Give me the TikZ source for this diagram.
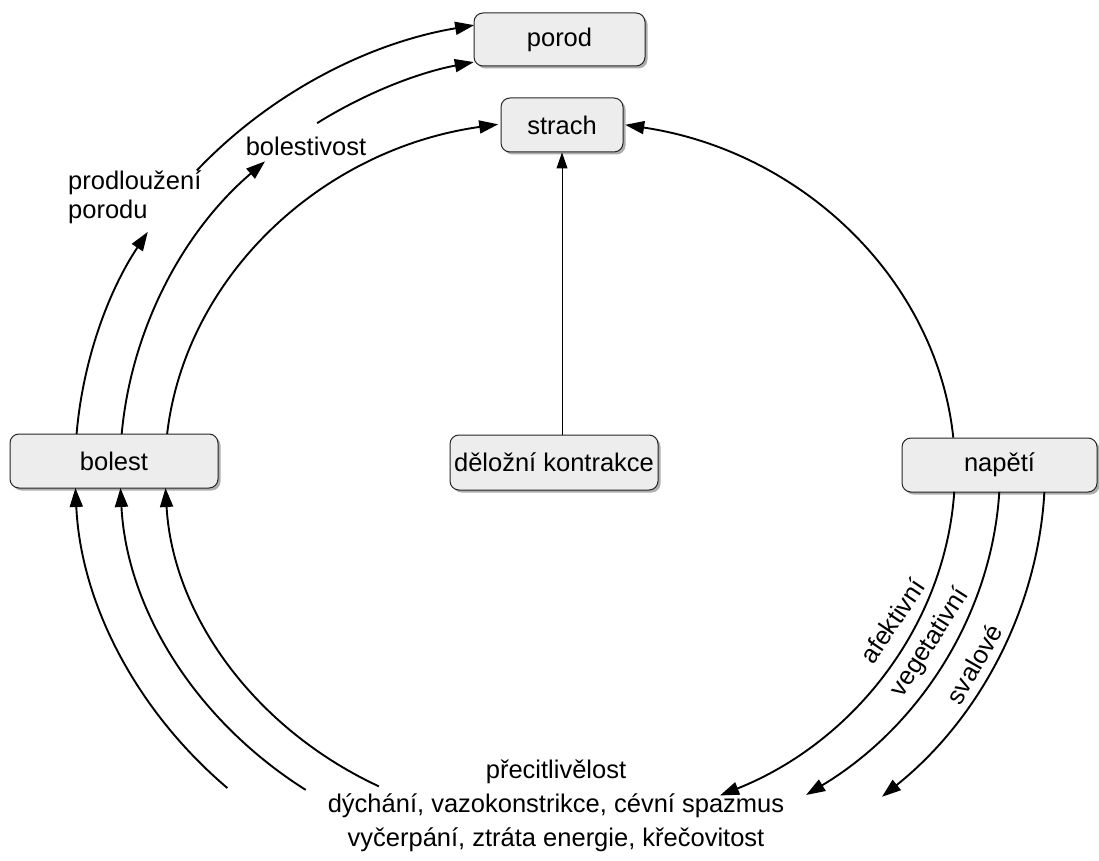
\documentclass[tikz,border=0pt]{standalone}
\usepackage{fontspec}
\setmainfont{Liberation Sans}
\usetikzlibrary{arrows.meta,shadows,calc}
\begin{document}
\begin{tikzpicture}[x=1pt,y=1pt,
  box/.style={draw=black!85, line width=1pt, rounded corners=9pt, fill=gray!14, inner sep=0pt,
    font=\fontsize{25.5}{30}\selectfont,
    drop shadow={shadow xshift=2.5pt, shadow yshift=-2.5pt, fill=black!40, opacity=0.8}},
  lbl/.style={font=\fontsize{25.5}{29}\selectfont, inner sep=0pt},
  arr/.style={line width=1.9pt, -{Triangle[length=19pt,width=13pt]}},
  thinarr/.style={line width=1pt, -{Triangle[length=16pt,width=11pt]}},
]
\useasboundingbox (0,0) rectangle (1099,-861);
\coordinate (C) at (560,-470);

% nodes
\node[box, minimum width=171pt, minimum height=53pt] (porod) at (559.5,-39.5) {porod};
\node[box, minimum width=122pt, minimum height=54pt] (strach) at (562,-125) {strach};
\node[box, minimum width=208pt, minimum height=54pt] (bolest) at (114,-461) {bolest};
\node[box, minimum width=208pt, minimum height=55pt] (deloz) at (554,-462.5) {děložní kontrakce};
\node[box, minimum width=195pt, minimum height=54pt] (napeti) at (999.5,-465) {napětí};

% labels
\node[lbl, align=left, anchor=west] (prod) at (68,-197) {prodloužení\\porodu};
\node[lbl] (bolv) at (306,-146) {bolestivost};
\node[lbl, align=center, font=\fontsize{25.5}{34}\selectfont] (sympt) at (556,-806)
  {přecitlivělost\\dýchání, vazokonstrikce, cévní spazmus\\vyčerpání, ztráta energie, křečovitost};
\node[lbl, rotate=56] (afek) at (892,-621) {afektivní};
\node[lbl, rotate=57.5] (veget) at (930,-643) {vegetativní};
\node[lbl, rotate=60] (sval) at (974,-664) {svalové};

% start points on the ellipses
\path (C) ++(175.43:485pt and 452pt) coordinate (o1s);
\path (C) ++(138.5:485pt and 452pt) coordinate (o2s);
\path (C) ++(175.04:440pt and 416pt) coordinate (m1s);
\path (C) ++(123.5:440pt and 416pt) coordinate (m2s);
\path (C) ++(174.1:395pt and 350pt) coordinate (i1s);
\path (C) ++(5.3:395pt and 350pt) coordinate (r1s);
\path (C) ++(226.7:485pt and 437pt) coordinate (h0);
\path (C) ++(234.7:440pt and 392pt) coordinate (i0);
\path (C) ++(242.7:395pt and 356pt) coordinate (j0);
\path (C) ++(-2.9:485pt and 437pt) coordinate (s0);
\path (C) ++(-3.2:440pt and 392pt) coordinate (v0);
\path (C) ++(-3.5:395pt and 356pt) coordinate (a0);

% upper left arcs
\draw[arr] (o1s) arc[start angle=175.43, end angle=148.2, x radius=485pt, y radius=452pt];
\draw[arr] (o2s) arc[start angle=138.5, end angle=100.2, x radius=485pt, y radius=452pt];
\draw[arr] (m1s) arc[start angle=175.04, end angle=132.1, x radius=440pt, y radius=416pt];
\draw[arr] (m2s) arc[start angle=123.5, end angle=101.3, x radius=440pt, y radius=416pt];
\draw[arr] (i1s) arc[start angle=174.1, end angle=99.0, x radius=395pt, y radius=350pt];
% right upper arc
\draw[arr] (r1s) arc[start angle=5.3, end angle=80.5, x radius=395pt, y radius=350pt];
% lower left arcs
\draw[arr] (h0) arc[start angle=226.7, end angle=182.36, x radius=485pt, y radius=437pt];
\draw[arr] (i0) arc[start angle=234.7, end angle=182.63, x radius=440pt, y radius=392pt];
\draw[arr] (j0) arc[start angle=242.7, end angle=182.9, x radius=395pt, y radius=356pt];
% lower right arcs
\draw[arr] (a0) arc[start angle=-3.5, end angle=-66.1, x radius=395pt, y radius=356pt];
\draw[arr] (v0) arc[start angle=-3.2, end angle=-56.0, x radius=440pt, y radius=392pt];
\draw[arr] (s0) arc[start angle=-2.9, end angle=-48.4, x radius=485pt, y radius=437pt];

% vertical
\draw[thinarr] (deloz.north -| strach.south) -- (strach.south);
\end{tikzpicture}
\end{document}
